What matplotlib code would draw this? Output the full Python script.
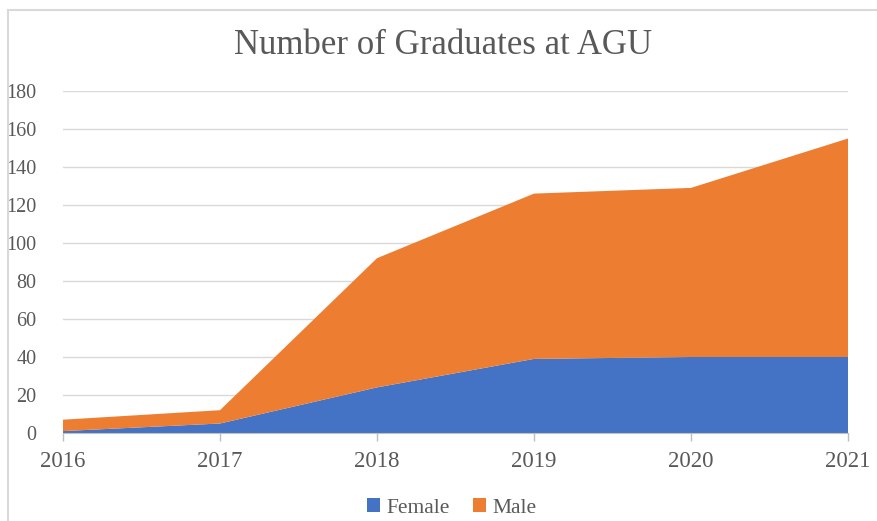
import matplotlib
matplotlib.use("Agg")
import matplotlib.pyplot as plt
from matplotlib.patches import Rectangle, Patch

years = [2016, 2017, 2018, 2019, 2020, 2021]
female = [1, 5, 24, 39, 40, 40]
male = [6, 7, 68, 87, 89, 115]
series_names = ["Female", "Male"]
colors = ["#4472C4", "#ED7D31"]
yticks = [0, 20, 40, 60, 80, 100, 120, 140, 160, 180]

plt.rcParams['font.family'] = ['Liberation Serif', 'DejaVu Serif']
text_color = "#595959"

W, H = 877, 521
fig = plt.figure(figsize=(W / 100, H / 100), dpi=100)
fig.patch.set_facecolor("white")

# chart frame
fig.patches.append(Rectangle((8 / W, -0.05), 1.2, 1 - 10 / H + 0.05, transform=fig.transFigure,
                             facecolor="none", edgecolor="#D9D9D9", linewidth=1.5))

ax = fig.add_axes([63 / W, 1 - 433 / H, (848 - 63) / W, (433 - 91) / H])
ax.stackplot(years, female, male, colors=colors, labels=series_names, linewidth=0)
ax.set_xlim(2016, 2021)
ax.set_ylim(0, 180)
ax.set_yticks(yticks)
ax.set_xticks(years)
ax.grid(axis="y", color="#D9D9D9", linewidth=1)
ax.set_axisbelow(True)
for s in ["top", "right", "left"]:
    ax.spines[s].set_visible(False)
ax.spines["bottom"].set_color("#BFBFBF")
ax.tick_params(axis="y", length=0, pad=19, labelsize=14.5, labelcolor=text_color)
ax.tick_params(axis="x", length=6, width=1, color="#BFBFBF", pad=7, labelsize=16.5, labelcolor=text_color)

fig.text(443 / W, 1 - 45 / H, "Number of Graduates at AGU", ha="center", va="center",
         fontsize=25, color=text_color)

handles = [Patch(facecolor=c, label=n) for c, n in zip(colors, series_names)]
fig.legend(handles=handles, loc="center", bbox_to_anchor=(452 / W, 1 - 508 / H), ncol=2,
           frameon=False, fontsize=15.5, labelcolor=text_color, handlelength=0.6, handleheight=0.6,
           handletextpad=0.3, columnspacing=1.1)

fig.savefig("out.png", dpi=100)
